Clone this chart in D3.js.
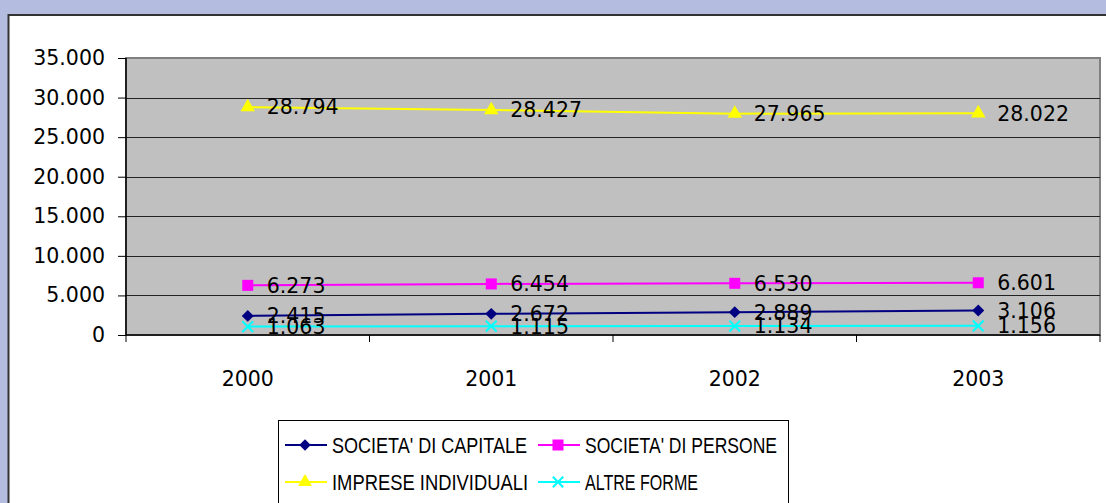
<!DOCTYPE html>
<html>
<head>
<meta charset="utf-8">
<script src="https://cdn.jsdelivr.net/npm/d3@7"></script>
<style>
  body { margin: 0; background: #b4bcdf; }
  svg { display: block; }
</style>
</head>
<body>
<div id="chart"></div>
<script>
// years on the x axis
var years = ["2000", "2001", "2002", "2003"];
// one array per series
var capitale = [2415, 2672, 2889, 3106];
var persone = [6273, 6454, 6530, 6601];
var individuali = [28794, 28427, 27965, 28022];
var altre = [1063, 1115, 1134, 1156];
var seriesNames = ["SOCIETA' DI CAPITALE", "SOCIETA' DI PERSONE", "IMPRESE INDIVIDUALI", "ALTRE FORME"];
var yTicks = [0, 5000, 10000, 15000, 20000, 25000, 30000, 35000];

var width = 1106, height = 503;

var series = [
  { name: seriesNames[0], values: capitale, color: "#000080", shape: "diamond" },
  { name: seriesNames[1], values: persone, color: "#ff00ff", shape: "square" },
  { name: seriesNames[2], values: individuali, color: "#ffff00", shape: "triangle" },
  { name: seriesNames[3], values: altre, color: "#00ffff", shape: "cross" }
];

var svg = d3.select("#chart").append("svg")
    .attr("width", width)
    .attr("height", height);

// white chart panel
svg.append("rect")
    .attr("x", 8.5).attr("y", 15)
    .attr("width", width).attr("height", height)
    .attr("fill", "#fff")
    .attr("stroke", "#333")
    .attr("stroke-width", 2);

var plot = { left: 126, right: 1100, top: 58, bottom: 335 };

var x = d3.scaleBand()
    .domain(years)
    .range([plot.left, plot.right]);

var y = d3.scaleLinear()
    .domain([0, 35000])
    .range([plot.bottom, plot.top]);

// grey plot area
svg.append("rect")
    .attr("x", plot.left).attr("y", plot.top)
    .attr("width", plot.right - plot.left)
    .attr("height", plot.bottom - plot.top)
    .attr("fill", "#c0c0c0")
    .attr("stroke", "#808080")
    .attr("stroke-width", 2);

// gridlines
svg.selectAll(".grid")
    .data(yTicks.filter(function(d){ return d > 0 && d < 35000; }))
    .enter().append("line")
    .attr("x1", plot.left).attr("x2", plot.right)
    .attr("y1", function(d){ return Math.round(y(d)) + 0.5; })
    .attr("y2", function(d){ return Math.round(y(d)) + 0.5; })
    .attr("stroke", "#222")
    .attr("stroke-width", 1);

var fmt = function(d){ return d3.format(",")(d).replace(/,/g, "."); };

// y axis
var yAxis = svg.append("g")
    .attr("transform", "translate(" + plot.left + ",0)")
    .call(d3.axisLeft(y).tickValues(yTicks).tickSize(8).tickPadding(13).tickFormat(fmt));

// x axis with ticks between categories
var xAxis = svg.append("g")
    .attr("transform", "translate(0," + plot.bottom + ")")
    .call(d3.axisBottom(x).tickSize(0).tickPadding(36));

xAxis.selectAll(".sep")
    .data(years.concat(["end"]))
    .enter().append("line")
    .attr("class", "sep")
    .attr("x1", function(d, i){ return plot.left + i * x.step(); })
    .attr("x2", function(d, i){ return plot.left + i * x.step(); })
    .attr("y1", 0).attr("y2", 7)
    .attr("stroke", "#000");

[yAxis, xAxis].forEach(function(a){
  a.select(".domain").attr("stroke", "#000").attr("stroke-width", 1.5);
  a.selectAll(".tick line").attr("stroke", "#000");
  a.selectAll("text")
    .attr("fill", "#000")
    .style("font-family", "'DejaVu Sans', Verdana, sans-serif")
    .style("font-size", "20.5px");
});
yAxis.select(".domain").attr("d", "M0," + plot.top + "V" + plot.bottom);
xAxis.select(".domain").attr("d", "M" + plot.left + ",0H" + plot.right);

function drawMarker(g, shape, color, size) {
  if (shape === "diamond") {
    g.append("path").attr("d", d3.symbol().type(d3.symbolDiamond2).size(size * 7)())
      .attr("fill", color);
  } else if (shape === "square") {
    g.append("rect").attr("x", -size / 2).attr("y", -size / 2)
      .attr("width", size).attr("height", size).attr("fill", color);
  } else if (shape === "triangle") {
    g.append("path").attr("d", d3.symbol().type(d3.symbolTriangle).size(size * 7)())
      .attr("fill", color);
  } else {
    g.append("path").attr("d", d3.symbol().type(d3.symbolX).size(size * 6)())
      .attr("fill", "none").attr("stroke", color).attr("stroke-width", 2);
  }
}

var line = d3.line()
    .x(function(d, i){ return x(years[i]) + x.bandwidth() / 2; })
    .y(function(d){ return y(d); });

series.forEach(function(s){
  var g = svg.append("g");
  g.append("path")
    .datum(s.values)
    .attr("d", line)
    .attr("fill", "none")
    .attr("stroke", s.color)
    .attr("stroke-width", 2);
  s.values.forEach(function(v, i){
    var m = g.append("g")
      .attr("transform", "translate(" + (x(years[i]) + x.bandwidth() / 2) + "," + y(v) + ")");
    drawMarker(m, s.shape, s.color, s.shape === "square" ? 11 : 13);
  });
  g.selectAll("text")
    .data(s.values)
    .enter().append("text")
    .attr("x", function(d, i){ return x(years[i]) + x.bandwidth() / 2 + 19; })
    .attr("y", function(d){ return y(d); })
    .attr("dy", "0.36em")
    .attr("fill", "#000")
    .style("font-family", "'DejaVu Sans', Verdana, sans-serif")
    .style("font-size", "20.5px")
    .text(fmt);
});

// legend
var legend = svg.append("g");
legend.append("rect")
    .attr("x", 278.5).attr("y", 420.5)
    .attr("width", 510).attr("height", 100)
    .attr("fill", "#fff")
    .attr("stroke", "#000")
    .attr("stroke-width", 1);

var legendPos = [
  { x: 285, y: 445, w: 195 },
  { x: 538, y: 445, w: 192 },
  { x: 285, y: 482, w: 196 },
  { x: 538, y: 482, w: 113 }
];

series.forEach(function(s, i){
  var p = legendPos[i];
  var item = legend.append("g").attr("transform", "translate(" + p.x + "," + p.y + ")");
  item.append("line").attr("x1", 0).attr("x2", 42)
    .attr("stroke", s.color).attr("stroke-width", 2);
  var m = item.append("g").attr("transform", "translate(20,0)");
  drawMarker(m, s.shape, s.color, s.shape === "square" ? 11 : 12);
  item.append("text")
    .attr("x", 47)
    .attr("dy", "0.36em")
    .attr("textLength", p.w)
    .attr("lengthAdjust", "spacingAndGlyphs")
    .style("font-family", "'Comic Sans MS', 'Liberation Sans Narrow', 'Liberation Sans', sans-serif")
    .style("font-size", "22px")
    .attr("fill", "#000")
    .text(s.name);
});
</script>
</body>
</html>
